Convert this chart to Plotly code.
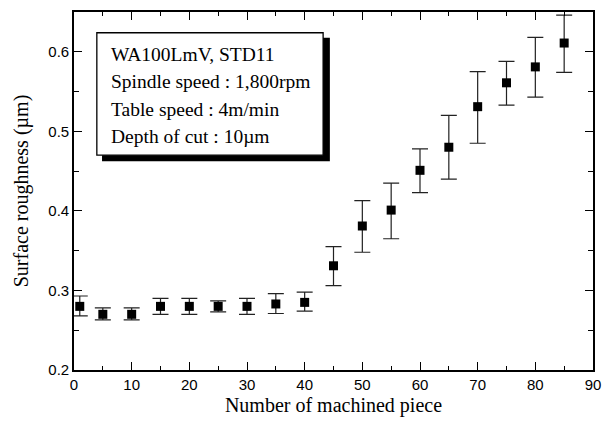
import plotly.graph_objects as go

# Surface roughness vs. number of machined pieces
pieces = [1, 5, 10, 15, 20, 25, 30, 35, 40, 45, 50, 55, 60, 65, 70, 75, 80, 85]
roughness = [0.280, 0.270, 0.270, 0.280, 0.280, 0.280, 0.280, 0.283, 0.285,
             0.331, 0.381, 0.401, 0.451, 0.480, 0.531, 0.561, 0.581, 0.611]
err_plus = [0.013, 0.008, 0.008, 0.010, 0.010, 0.007, 0.010, 0.013, 0.013,
            0.024, 0.032, 0.034, 0.027, 0.040, 0.044, 0.027, 0.037, 0.035]
err_minus = [0.012, 0.007, 0.007, 0.010, 0.010, 0.007, 0.010, 0.012, 0.011,
             0.025, 0.033, 0.036, 0.028, 0.040, 0.046, 0.028, 0.038, 0.037]

x_ticks = list(range(0, 91, 10))
y_ticks = [0.2, 0.3, 0.4, 0.5, 0.6]

info_lines = ["WA100LmV, STD11",
              "Spindle speed : 1,800rpm",
              "Table speed : 4m/min",
              "Depth of cut : 10µm"]

serif = "Liberation Serif, Times New Roman, serif"
sans = "Liberation Sans, Arial, sans-serif"

fig = go.Figure()
fig.add_trace(go.Scatter(
    x=pieces, y=roughness, mode="markers",
    marker=dict(symbol="square", size=9, color="black"),
    error_y=dict(type="data", symmetric=False, array=err_plus, arrayminus=err_minus,
                 color="#222", thickness=1.2, width=8),
    showlegend=False,
))

axis_common = dict(
    showline=True, linecolor="black", linewidth=1.6, mirror="ticks",
    ticks="inside", ticklen=8, tickwidth=1.4, tickcolor="black",
    showgrid=False, zeroline=False,
    tickfont=dict(family=sans, size=15, color="black"),
)

fig.update_xaxes(
    range=[0, 90], tickvals=x_ticks,
    minor=dict(dtick=5, tick0=0, ticks="inside", ticklen=4, tickwidth=1.4, tickcolor="black", showgrid=False),
    title=dict(text="Number of machined piece", font=dict(family=serif, size=20, color="black"), standoff=6),
    **axis_common,
)
fig.update_yaxes(
    range=[0.2, 0.65], tickvals=y_ticks, tickformat=".1f",
    minor=dict(dtick=0.05, tick0=0.2, ticks="inside", ticklen=5, tickwidth=1.4, tickcolor="black", showgrid=False),
    title=dict(text="Surface roughness (µm)", font=dict(family=serif, size=20, color="black"), standoff=14),
    **axis_common,
)

# Condition box with drop shadow (paper coordinates)
fig.add_shape(type="rect", xref="paper", yref="paper",
              x0=0.054, x1=0.493, y0=0.583, y1=0.928,
              fillcolor="black", line=dict(width=0), layer="above")
fig.add_shape(type="rect", xref="paper", yref="paper",
              x0=0.044, x1=0.480, y0=0.600, y1=0.942,
              fillcolor="white", line=dict(color="black", width=1.3), layer="above")

for i, line in enumerate(info_lines):
    fig.add_annotation(xref="paper", yref="paper", x=0.067, y=0.882 - i * 0.0765,
                       text=line, showarrow=False, xanchor="left", yanchor="middle",
                       font=dict(family=serif, size=19.5, color="black"))

fig.update_layout(
    width=611, height=424,
    margin=dict(l=74, r=18, t=10, b=54),
    paper_bgcolor="white", plot_bgcolor="white",
)

fig.write_html("out.html")
